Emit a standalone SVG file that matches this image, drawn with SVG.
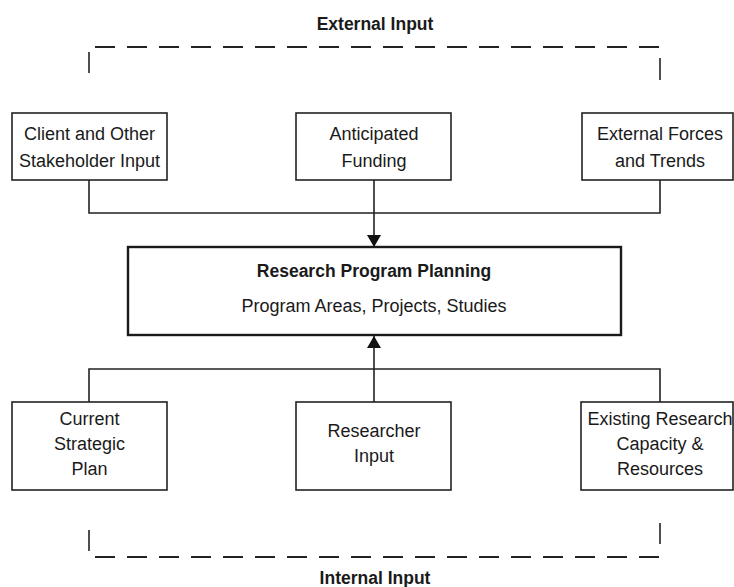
<svg xmlns="http://www.w3.org/2000/svg" width="734" height="587" viewBox="0 0 734 587">
  <style>
    .box { fill: #ffffff; stroke: #222222; stroke-width: 1.6; }
    .main { fill: #ffffff; stroke: #1a1a1a; stroke-width: 2.4; }
    .txt { font-family: "Liberation Sans", Arial, sans-serif; font-size: 18px; fill: #1a1a1a; text-anchor: middle; }
    .bold { font-family: "Liberation Sans", Arial, sans-serif; font-size: 17.5px; font-weight: bold; fill: #1a1a1a; text-anchor: middle; }
    .wire { fill: none; stroke: #222222; stroke-width: 1.6; }
    .dash { fill: none; stroke: #222222; stroke-width: 2; stroke-dasharray: 20 12; }
  </style>
  <defs>
    <marker id="arrow" viewBox="0 0 12 14" refX="12" refY="7" markerWidth="12" markerHeight="14" markerUnits="userSpaceOnUse" orient="auto">
      <path d="M0,0 L12,7 L0,14 Z" fill="#111111"/>
    </marker>
  </defs>
  <rect width="734" height="587" fill="#ffffff"/>

  <!-- external input bracket -->
  <g id="external-input">
    <text class="bold" x="375" y="30">External Input</text>
    <line class="dash" x1="95" y1="47" x2="660" y2="47"/>
    <line class="wire" x1="89" y1="52" x2="89" y2="73"/>
    <line class="wire" x1="660" y1="58" x2="660" y2="80"/>
  </g>

  <!-- internal input bracket -->
  <g id="internal-input">
    <line class="wire" x1="89" y1="530" x2="89" y2="551"/>
    <line class="wire" x1="660" y1="523" x2="660" y2="544"/>
    <line class="dash" x1="95" y1="557" x2="660" y2="557"/>
    <text class="bold" x="375" y="584">Internal Input</text>
  </g>

  <!-- connectors -->
  <g id="connectors">
    <path class="wire" d="M89,180 V213 H660 V180"/>
    <line class="wire" x1="374" y1="180" x2="374" y2="247" marker-end="url(#arrow)"/>
    <path class="wire" d="M89,402 V369 H660 V402"/>
    <line class="wire" x1="374" y1="402" x2="374" y2="336" marker-end="url(#arrow)"/>
  </g>

  <g id="client-input">
    <rect class="box" x="12" y="113" width="155" height="67"/>
    <text class="txt" x="89.5" y="140">Client and Other</text>
    <text class="txt" x="89.5" y="167">Stakeholder Input</text>
  </g>

  <g id="anticipated-funding">
    <rect class="box" x="296" y="113" width="155" height="67"/>
    <text class="txt" x="374" y="140">Anticipated</text>
    <text class="txt" x="374" y="167">Funding</text>
  </g>

  <g id="external-forces">
    <rect class="box" x="582" y="113" width="151" height="67"/>
    <text class="txt" x="660" y="140">External Forces</text>
    <text class="txt" x="660" y="167">and Trends</text>
  </g>

  <g id="program-planning">
    <rect class="main" x="128" y="247" width="493" height="88"/>
    <text class="bold" x="374" y="277">Research Program Planning</text>
    <text class="txt" x="374" y="312">Program Areas, Projects, Studies</text>
  </g>

  <g id="strategic-plan">
    <rect class="box" x="12" y="402" width="155" height="88"/>
    <text class="txt" x="89.5" y="425">Current</text>
    <text class="txt" x="89.5" y="450">Strategic</text>
    <text class="txt" x="89.5" y="475">Plan</text>
  </g>

  <g id="researcher-input">
    <rect class="box" x="296" y="402" width="155" height="88"/>
    <text class="txt" x="374" y="437">Researcher</text>
    <text class="txt" x="374" y="462">Input</text>
  </g>

  <g id="research-capacity">
    <rect class="box" x="581" y="402" width="152" height="88"/>
    <text class="txt" x="660" y="425">Existing Research</text>
    <text class="txt" x="660" y="450">Capacity &amp;</text>
    <text class="txt" x="660" y="475">Resources</text>
  </g>
</svg>
